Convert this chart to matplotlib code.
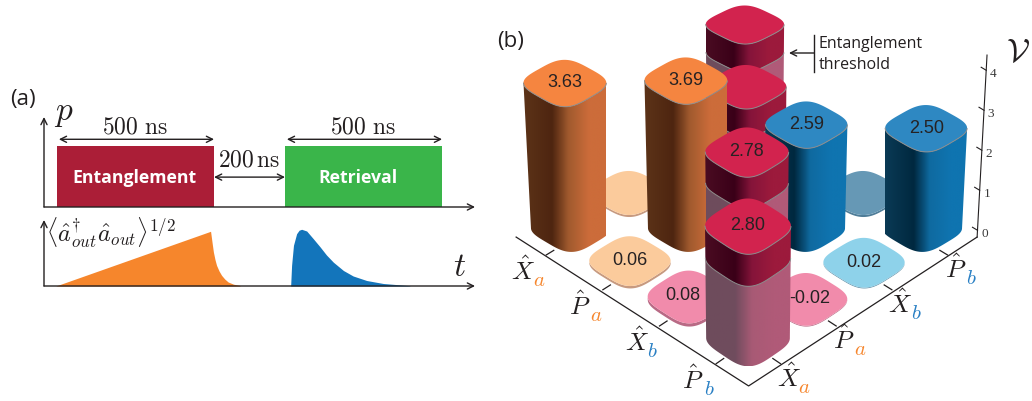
import matplotlib
matplotlib.use('Agg')
import matplotlib.pyplot as plt
import numpy as np
from matplotlib.colors import LinearSegmentedColormap
from matplotlib.patches import Polygon, Rectangle

plt.rcParams['mathtext.fontset'] = 'cm'
plt.rcParams['font.family'] = ['Open Sans', 'DejaVu Sans']

# panel (a): pulse sequence, schematic (gap is not to scale in the original)
pulse_names = ['Entanglement', 'Retrieval']
pulse_starts = [0, 726]
pulse_lengths = [500, 500]
pulse_colors = ['#ab1e37', '#3ab54a']

orange_t = [-4, 489, 494, 498, 503, 508, 516, 524, 534, 545, 562, 583]
orange_y = [0, 54.7, 43, 34, 26.5, 20.7, 15, 10.7, 7, 4, 1.8, 0.5]
blue_t = [744, 747, 753, 763, 771, 779, 795, 816, 838, 858, 880, 912, 943, 986, 1039, 1124]
blue_y = [0, 20.7, 40.7, 52.3, 55.8, 56.7, 55, 47.3, 39, 31, 23.8, 15.5, 10, 5.5, 2.5, 0.3]

# panel (b): covariance matrix, rows and columns in the order of quadratures
quadratures = [r'\hat{X}', r'\hat{P}', r'\hat{X}', r'\hat{P}']
modes = ['a', 'a', 'b', 'b']
covariance = [
    [3.63, 0.05, 0.02, 2.70],
    [0.06, 3.69, 2.70, 0.02],
    [0.08, 2.78, 2.59, 0.05],
    [2.80, -0.02, 0.02, 2.50],
]
unlabelled = [(0, 1), (0, 2), (0, 3), (1, 2), (1, 3), (2, 3)]
z_ticks = [0, 1, 2, 3, 4]
threshold = 2.0

mode_colors = {'a': '#f6872f', 'b': '#2a80c4'}
top_colors = {'orange': '#f58540', 'red': '#d2234e', 'blue': '#2e88c2'}
flat_colors = {'orange': '#fbcb9c', 'red': '#f18bab', 'blue': '#8ed2ea'}
rim_colors = {'orange': '#c79a80', 'red': '#b86a85', 'blue': '#5f8ea6'}
side_maps = {
    'orange': ['#5c3318', '#4e2510', '#a05a2e', '#cc6c3a', '#cc6c3a'],
    'red': ['#4a0c22', '#3a0018', '#85143a', '#9c1a3c', '#9c1a3c'],
    'blue': ['#0a3a55', '#00283f', '#0f6aa0', '#0f74b0', '#0f74b0'],
    'pale': ['#6e4c5c', '#704c5e', '#a85a75', '#b05a78', '#b05a78'],
}
side_maps = {k: LinearSegmentedColormap.from_list(k, list(zip([0, 0.35, 0.55, 0.8, 1], v)))
             for k, v in side_maps.items()}
gradient = np.linspace(0, 1, 128).reshape(1, -1)


def add_px_axes(fig, left, top, right, bottom):
    ax = fig.add_axes([left / 1032, 1 - bottom / 402, (right - left) / 1032, (bottom - top) / 402])
    ax.axis('off')
    return ax


def arrow(ax, start, end, style='->', lw=1.0, scale=11):
    ax.annotate('', xy=end, xytext=start, annotation_clip=False,
                arrowprops=dict(arrowstyle=style, lw=lw, color='#231f20', shrinkA=0, shrinkB=0,
                                mutation_scale=scale))


def project(u, v, z=0.0):
    # oblique view with a little perspective, gives pixel positions in the figure
    d = np.asarray(u) + np.asarray(v)
    x = 748 + 58 * np.asarray(v) - 59 * np.asarray(u)
    y = 339 - 39 * d + 0.79 * d ** 2 - 40 * np.asarray(z)
    x = 748 + (x - 748) * (1 + 0.0095 * np.asarray(z))
    return x, y


def footprint(u, v, n=240):
    th = np.linspace(0, 2 * np.pi, n, endpoint=False)
    r = 0.436 * (1 - 0.0145 * (u + v))
    power = 3.5
    du = r * np.sign(np.cos(th)) * np.abs(np.cos(th)) ** (2 / power)
    dv = r * np.sign(np.sin(th)) * np.abs(np.sin(th)) ** (2 / power)
    return du, dv


def front_arc(u, v):
    # the part of the outline facing the viewer, from the left corner to the right one
    du, dv = footprint(u, v)
    keep = du + dv <= 0
    shift = np.argmin(keep)
    du, dv, keep = np.roll(du, -shift), np.roll(dv, -shift), np.roll(keep, -shift)
    du, dv = du[keep], dv[keep]
    return (du, dv) if project(u + du[0], v + dv[0])[0] < project(u + du[-1], v + dv[-1])[0] else (du[::-1], dv[::-1])


def draw_side(ax, u, v, z0, z1, cmap, order, solid=None):
    du, dv = front_arc(u, v)
    xt, yt = project(u + du, v + dv, z1)
    xb, yb = project(u + du, v + dv, z0)
    outline = np.r_[np.c_[xt, yt], np.c_[xb, yb][::-1]]
    if solid:
        ax.add_patch(Polygon(outline, closed=True, facecolor=solid, edgecolor='none', zorder=order))
        return
    shape = Polygon(outline, closed=True, transform=ax.transData)
    img = ax.imshow(gradient, cmap=cmap, aspect='auto', extent=[xt.min(), xt.max(), yb.max(), yt.min()],
                    zorder=order, interpolation='bilinear')
    img.set_clip_path(shape)


def front_edge(ax, u, v, z, order):
    du, dv = front_arc(u, v)
    x, y = project(u + du, v + dv, z)
    ax.plot(x, y, color='#8c8c8c', lw=0.7, zorder=order, solid_capstyle='round')


def draw_cell(ax, u, v, value, group, label, order):
    du, dv = footprint(u, v)
    height = abs(value)
    flat = height < 1
    if flat:
        top = flat_colors[group]
        rim = rim_colors[group]
        if (u, v) == (1, 3):
            top = '#6698b5'
            rim = '#4f7d98'
        draw_side(ax, u, v, 0, height, None, order, solid=rim)
    elif group == 'red':
        draw_side(ax, u, v, 0, threshold, side_maps['pale'], order)
        draw_side(ax, u, v, threshold, height, side_maps['red'], order)
        front_edge(ax, u, v, threshold, order)
        top = top_colors[group]
    else:
        draw_side(ax, u, v, 0, height, side_maps[group], order)
        top = top_colors[group]
    xt, yt = project(u + du, v + dv, height)
    ax.add_patch(Polygon(np.c_[xt, yt], closed=True, facecolor=top, edgecolor='none', zorder=order))
    if not flat:
        front_edge(ax, u, v, height, order)
    if label:
        xc, yc = project(u, v, height)
        shift = {(1, 0): (-6, -2), (0, 1): (4, -1)}.get((u, v), (0, -1))
        ax.text(xc + shift[0], yc + shift[1], f'{value:.2f}', ha='center', va='center', color='#262223',
                fontsize=13, family=['Liberation Sans'], zorder=order)


fig = plt.figure(figsize=(10.32, 4.02), dpi=100)

# ---- panel (a)
ax_p = add_px_axes(fig, 44, 118, 475, 208)
ax_p.set_xlim(-41.4, 1331)
ax_p.set_ylim(0, 90 / 61)
for name, start, length, color in zip(pulse_names, pulse_starts, pulse_lengths, pulse_colors):
    ax_p.add_patch(Rectangle((start, 0), length, 1, facecolor=color, edgecolor='none'))
    ax_p.text(start + length / 2 - (3 if name == 'Entanglement' else 19), 0.49, name, color='white',
              ha='center', va='center', fontsize=12.7, fontweight='bold')
    arrow(ax_p, (start + 6, 1.11), (start + length, 1.11), '<->')
    ax_p.text(start + length / 2 - 1, 1.32, r'$\mathrm{500\ ns}$', ha='center', va='center', fontsize=17,
              color='#231f20')
arrow(ax_p, (500, 0.49), (726, 0.49), '<->')
ax_p.text(613, 0.78, r'$\mathrm{200\,ns}$', ha='center', va='center', fontsize=17, color='#231f20')
arrow(ax_p, (-41.4, 0), (-41.4, 90 / 61))
arrow(ax_p, (-41.4, 0), (1331, 0))
ax_p.text(20, 1.57, r'$p$', ha='center', va='center', fontsize=24, color='#231f20')

ax_out = add_px_axes(fig, 44, 221, 475, 287)
ax_out.set_xlim(-41.4, 1331)
ax_out.set_ylim(0, 66)
ax_out.fill_between(orange_t, orange_y, 0, color='#f6862c', lw=0)
ax_out.fill_between(blue_t, blue_y, 0, color='#1375bb', lw=0)
arrow(ax_out, (-41.4, 0), (-41.4, 66))
arrow(ax_out, (-41.4, 0), (1331, 0))
ax_out.text(172, 54, r'$\langle\hat{a}^{\dagger}_{out}\hat{a}_{out}\rangle^{1/2}$', ha='center', va='center',
            fontsize=17.5, color='#231f20')
ax_out.text(1283, 19, r'$t$', ha='center', va='center', fontsize=24, color='#231f20')

# ---- panel (b), everything here is placed in pixels through project()
ax_b = add_px_axes(fig, 0, 0, 1032, 402)

line_kw = dict(color='#231f20', lw=0.9, zorder=1)
ax_b.plot(*project([3.34, -0.6, -0.6], [-0.6, -0.6, 3.34]), **line_kw)
ax_b.plot(*project([-0.6, -0.6], [3.34, 3.34], [0, 4.55]), color='#231f20', lw=0.8, zorder=1)

n = len(quadratures)
for i in range(n):
    pos = 0.96 * (n - 1 - i) - 0.05
    ax_b.plot(*project([pos, pos], [-0.6, -0.47]), **line_kw)
    ax_b.plot(*project([-0.6, -0.47], [0.96 * i - 0.05] * 2), **line_kw)
    x_l, y_l = project(pos, -0.6)
    x_r, y_r = project(-0.6, 0.96 * i - 0.05)
    for x, y in ((x_l - 23, y_l + 16), (x_r + 8, y_r + 14)):
        ax_b.text(x, y, f'${quadratures[i]}$', ha='center', va='center', fontsize=18.5, color='#231f20')
        ax_b.text(x + 16, y + 9, f'${modes[i]}$', ha='center', va='center', fontsize=15,
                  color=mode_colors[modes[i]])

for z in z_ticks:
    x, y = project(-0.6, 3.34, z + 0.17)
    ax_b.plot([x - 5, x], [y - 3, y], color='#231f20', lw=0.8, zorder=1)
    ax_b.text(x + 7, y + 3, str(z), ha='center', va='center', fontsize=9.5, family=['Liberation Serif'],
              color='#3a3a3a')
ax_b.text(1018, 53, r'$\mathcal{V}$', ha='center', va='center', fontsize=24, color='#231f20')

# far cells first so nearer bars paint over them
cells = [(n - 1 - r, c) for r in range(n) for c in range(n)]
cells.sort(key=lambda cell: -(cell[0] + cell[1]))
for order, (u, v) in enumerate(cells):
    r = n - 1 - u
    group = 'orange' if r < 2 and v < 2 else 'blue' if r >= 2 and v >= 2 else 'red'
    draw_cell(ax_b, u, v, covariance[r][v], group, (r, v) not in unlabelled, 5 + order)

ax_b.plot([814, 814], [36, 73], color='#231f20', lw=1.0, zorder=40)
arrow(ax_b, (814, 54), (789, 54))
ax_b.text(819, 44, 'Entanglement', ha='left', va='center', fontsize=11.5, color='#231f20')
ax_b.text(819, 65, 'threshold', ha='left', va='center', fontsize=11.5, color='#231f20')

ax_b.text(10, 100, '(a)', ha='left', va='center', fontsize=16, color='#231f20')
ax_b.text(497, 42, '(b)', ha='left', va='center', fontsize=16, color='#231f20')

# imshow above moves the limits, so set the pixel frame last
ax_b.set_xlim(0, 1032)
ax_b.set_ylim(402, 0)

fig.savefig('out.png', dpi=100)
